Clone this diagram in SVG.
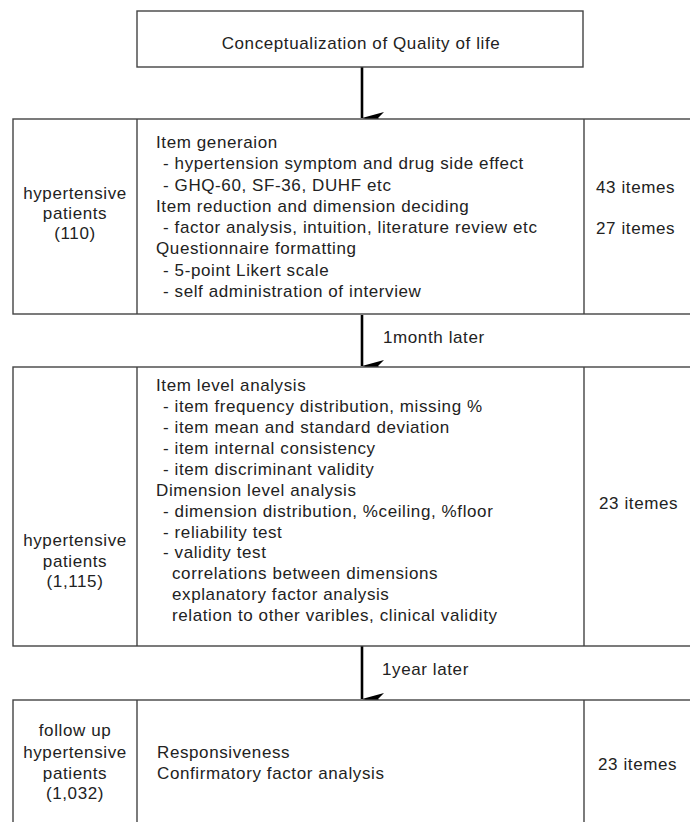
<svg xmlns="http://www.w3.org/2000/svg" width="690" height="822" viewBox="0 0 690 822">
<style>
.box{fill:#fff;stroke:#444;stroke-width:1.4}
.div{stroke:#444;stroke-width:1.4}
text{font-family:"Liberation Sans",Arial,sans-serif;font-size:17px;fill:#222;letter-spacing:0.6px}
.c{text-anchor:middle}
.arrow{stroke:#000;stroke-width:2.6;fill:none}
</style>
<defs>
<marker id="ah" markerUnits="userSpaceOnUse" markerWidth="14" markerHeight="24" refX="7" refY="22" orient="auto" viewBox="0 0 14 24">
<path d="M1,0 L7,6 L13,0 L7,22 Z" fill="#000"/>
</marker>
</defs>
<rect width="690" height="822" fill="#fff"/>
<g id="connectors">
<line class="arrow" x1="362" y1="67" x2="362" y2="118" marker-end="url(#ah)"/>
<line class="arrow" x1="362" y1="315" x2="362" y2="366" marker-end="url(#ah)"/>
<line class="arrow" x1="362" y1="646" x2="362" y2="699" marker-end="url(#ah)"/>
</g>
<g id="concept">
<rect class="box" x="137" y="11" width="446" height="56"/>
<text class="c" x="361" y="49">Conceptualization of Quality of life</text>
</g>
<g id="stage1">
<rect class="box" x="13" y="119" width="700" height="195"/>
<line class="div" x1="137" y1="119" x2="137" y2="314"/>
<line class="div" x1="584" y1="119" x2="584" y2="314"/>
<text class="c" x="75" y="199">hypertensive</text>
<text class="c" x="75" y="219">patients</text>
<text class="c" x="75" y="239">(110)</text>
<text x="156" y="148">Item generaion</text>
<text x="163" y="169">- hypertension symptom and drug side effect</text>
<text x="163" y="190.5">- GHQ-60, SF-36, DUHF etc</text>
<text x="156" y="212">Item reduction and dimension deciding</text>
<text x="163" y="233">- factor analysis, intuition, literature review etc</text>
<text x="156" y="254">Questionnaire formatting</text>
<text x="163" y="275.5">- 5-point Likert scale</text>
<text x="163" y="297">- self administration of interview</text>
<text x="596" y="193">43 itemes</text>
<text x="596" y="234">27 itemes</text>
</g>
<g id="label1"><text x="383" y="343">1month later</text></g>
<g id="stage2">
<rect class="box" x="13" y="367" width="700" height="279"/>
<line class="div" x1="137" y1="367" x2="137" y2="646"/>
<line class="div" x1="584" y1="367" x2="584" y2="646"/>
<text class="c" x="75" y="546">hypertensive</text>
<text class="c" x="75" y="567">patients</text>
<text class="c" x="75" y="587">(1,115)</text>
<text x="156" y="391">Item level analysis</text>
<text x="163" y="412">- item frequency distribution, missing %</text>
<text x="163" y="433">- item mean and standard deviation</text>
<text x="163" y="454">- item internal consistency</text>
<text x="163" y="475">- item discriminant validity</text>
<text x="156" y="495.5">Dimension level analysis</text>
<text x="163" y="516.5">- dimension distribution, %ceiling, %floor</text>
<text x="163" y="537.5">- reliability test</text>
<text x="163" y="558">- validity test</text>
<text x="172" y="579">correlations between dimensions</text>
<text x="172" y="600">explanatory factor analysis</text>
<text x="172" y="621">relation to other varibles, clinical validity</text>
<text x="599" y="509">23 itemes</text>
</g>
<g id="label2"><text x="382" y="675">1year later</text></g>
<g id="stage3">
<rect class="box" x="13" y="700" width="700" height="140"/>
<line class="div" x1="137" y1="700" x2="137" y2="840"/>
<line class="div" x1="584" y1="700" x2="584" y2="840"/>
<text class="c" x="75" y="736">follow up</text>
<text class="c" x="75" y="758">hypertensive</text>
<text class="c" x="75" y="779">patients</text>
<text class="c" x="75" y="799">(1,032)</text>
<text x="157" y="758">Responsiveness</text>
<text x="157" y="779">Confirmatory factor analysis</text>
<text x="598" y="770">23 itemes</text>
</g>
</svg>
